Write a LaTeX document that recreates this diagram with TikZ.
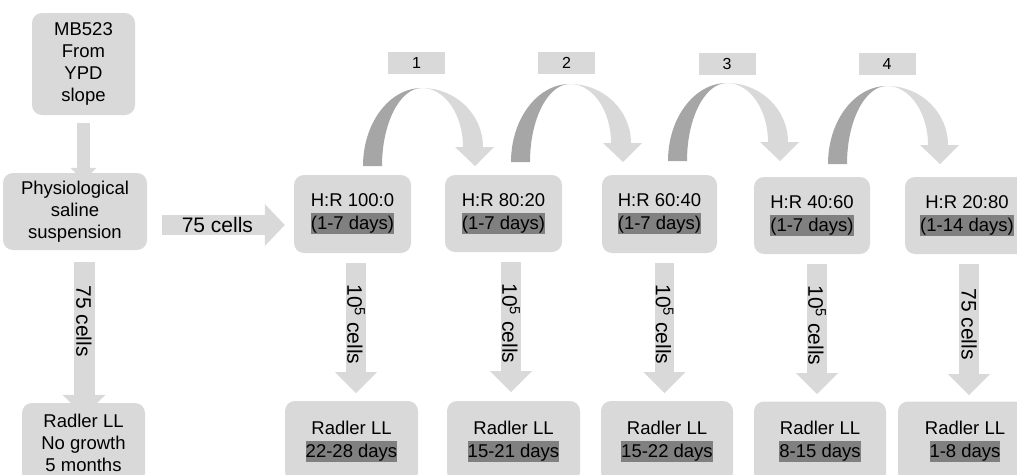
\documentclass[tikz,border=0pt]{standalone}
\usepackage{fontspec}
\setmainfont{Liberation Sans}
\usetikzlibrary{arrows.meta,calc}
\definecolor{boxgray}{HTML}{D9D9D9}
\definecolor{hlgray}{HTML}{808080}
\definecolor{bandgray}{HTML}{A6A6A6}
% dark marker behind the duration line
\newcommand\hl[1]{{\setlength\fboxsep{0pt}\colorbox{hlgray}{\rule[-4.5pt]{0pt}{21pt}#1}}}
\begin{document}
\begin{tikzpicture}[x=1pt,y=1pt,
  box/.style={fill=boxgray, rounded corners=10pt, align=center, inner sep=0pt,
    font=\fontsize{18.5}{23}\selectfont},
  tallbox/.style={box, font=\fontsize{18.5}{22}\selectfont},
  numbox/.style={fill=boxgray, minimum width=57pt, minimum height=22pt, inner sep=0pt,
    font=\fontsize{16}{19}\selectfont},
  fatarrow/.style n args={3}{draw=boxgray, line width=#1, line cap=butt,
    -{Triangle[width=#2, length=#3, line width=0pt]}},
  lbl/.style={font=\fontsize{21}{25}\selectfont, inner sep=0pt},
  vlbl/.style={lbl, rotate=-90, anchor=west},
  hoop/.pic={
    % rising (shaded) half of the curved arrow
    \fill[bandgray] (-59,-78) arc[start angle=180, end angle=90, x radius=59, y radius=78]
      arc[start angle=90, end angle=180, x radius=40, y radius=78] -- cycle;
    % falling half with its head
    \fill[boxgray] (0,0) arc[start angle=90, end angle=0, x radius=61, y radius=59]
      -- (72,-59) -- (53,-78) -- (33,-59) -- (41,-59)
      arc[start angle=0, end angle=90, x radius=41, y radius=59] -- cycle;
  }
]
\useasboundingbox (0,0) rectangle (1017,-474);
\clip (0,0) rectangle (1017,-474);

% left column
\node[tallbox, minimum width=103pt, minimum height=102pt] (mb) at (83.5,-64) {MB523\\From\\YPD\\slope};
\node[tallbox, minimum width=144pt, minimum height=77pt] (phys) at (75,-211.5) {Physiological\\saline\\suspension};
\node[tallbox, minimum width=123pt, minimum height=80pt] (n0) at (83.5,-443) {Radler LL\\No growth\\5 months};

% adaptation steps
\node[box, minimum width=117pt, minimum height=78pt] (r1) at (352.5,-214) {H:R 100:0\\\hl{(1-7 days)}};
\node[box, minimum width=117pt, minimum height=77pt] (r2) at (503.5,-213.5) {H:R 80:20\\\hl{(1-7 days)}};
\node[box, minimum width=115pt, minimum height=78pt] (r3) at (659.5,-214) {H:R 60:40\\\hl{(1-7 days)}};
\node[box, minimum width=116pt, minimum height=77pt] (r4) at (812,-215.5) {H:R 40:60\\\hl{(1-7 days)}};
\node[box, minimum width=124pt, minimum height=77pt] (r5) at (967,-215.5) {H:R 20:80\\\hl{(1-14 days)}};

% results in Radler LL
\node[box, minimum width=133pt, minimum height=81pt] (b1) at (351.5,-441.5) {Radler LL\\\hl{22-28 days}};
\node[box, minimum width=133pt, minimum height=81pt] (b2) at (513.5,-441.5) {Radler LL\\\hl{15-21 days}};
\node[box, minimum width=132pt, minimum height=81pt] (b3) at (667,-441.5) {Radler LL\\\hl{15-22 days}};
\node[box, minimum width=132pt, minimum height=81pt] (b4) at (820,-442) {Radler LL\\\hl{8-15 days}};
\node[box, minimum width=134pt, minimum height=81pt] (b5) at (965,-442) {Radler LL\\\hl{1-8 days}};

% step numbers
\node[numbox] (k1) at (416.5,-63) {1};
\node[numbox] (k2) at (566.5,-63) {2};
\node[numbox] (k3) at (727,-64) {3};
\node[numbox] (k4) at (887,-64) {4};

% transfers between steps
\pic (h1) at (422,-88) {hoop};
\pic (h2) at (570,-84) {hoop};
\pic (h3) at (727,-83) {hoop};
\pic (h4) at (887,-86) {hoop};

% block arrows
\draw[fatarrow={13pt}{26pt}{13pt}] ($(mb.south)+(0,-8)$) -- ($(phys.north)+(8.5,-8)$);
\draw[fatarrow={21pt}{43pt}{21pt}] ($(phys.south)+(9,-12)$) coordinate (s0) -- ($(n0.north)+(0.5,-13)$);
\node[vlbl] (t0) at ($(s0)+(0,-23)$) {75 cells};

\draw[fatarrow={20pt}{42pt}{20pt}] ($(phys.east)+(15,-13.5)$) -- ($(r1.west)+(-9,-11)$)
  node[lbl, pos=.45] (t75) {75 cells};

\draw[fatarrow={19.5pt}{42pt}{21pt}] ($(r1.south)+(3.5,-10)$) coordinate (s1) -- ++(0,-130);
\draw[fatarrow={19.5pt}{42pt}{21pt}] ($(r2.south)+(7.5,-10)$) coordinate (s2) -- ++(0,-130);
\draw[fatarrow={19.5pt}{42pt}{21pt}] ($(r3.south)+(5,-10)$) coordinate (s3) -- ++(0,-130);
\draw[fatarrow={19.5pt}{42pt}{21pt}] ($(r4.south)+(5,-10)$) coordinate (s4) -- ++(0,-130);
\draw[fatarrow={19.5pt}{42pt}{21pt}] ($(r5.south)+(2,-10)$) coordinate (s5) -- ++(0,-131);

\node[vlbl] (t1) at ($(s1)+(0,-21)$) {10\textsuperscript{5} cells};
\node[vlbl] (t2) at ($(s2)+(0,-21)$) {10\textsuperscript{5} cells};
\node[vlbl] (t3) at ($(s3)+(0,-21)$) {10\textsuperscript{5} cells};
\node[vlbl] (t4) at ($(s4)+(0,-21)$) {10\textsuperscript{5} cells};
\node[vlbl] (t5) at ($(s5)+(0,-24)$) {75 cells};
\end{tikzpicture}
\end{document}
